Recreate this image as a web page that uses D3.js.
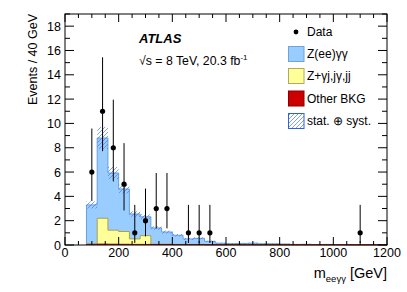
<!DOCTYPE html>
<html><head><meta charset="utf-8">
<script src="https://cdn.jsdelivr.net/npm/d3@7"></script>
<style>
body{margin:0;background:#fff;}
svg{display:block;font-family:"Liberation Sans",Arial,Helvetica,sans-serif;}
</style></head><body>
<svg id="c" width="407" height="292"></svg>
<script>
// ---- data ----
const binEdgeStart = 80, binWidth = 40, nBins = 28;
const otherBkg = [0.05,0.08,0.07,0.06,0.05,0.05,0.04,0.04,0.03,0.03,0.03,0.02,0.02,0.02,0.02,0.02,0.02,0.02,0.02,0.02,0.02,0.02,0.02,0.02,0.02,0.02,0.02,0.02];
const zJets    = [0.05,2.12,1.15,1.05,0.45,0.72,0.03,0.03,0.02,0.02,0.02,0.01,0.01,0.01,0.01,0.01,0,0,0,0,0,0,0,0,0,0,0,0];
const zeeyy    = [3.2,6.6,4.7,3.5,2.05,1.55,1.33,1.0,0.75,0.45,0.5,0.27,0.12,0.08,0.1,0.12,0.08,0.08,0.06,0.03,0.04,0.02,0.03,0.01,0,0,0,0];
const syst     = [0.3,0.9,0.5,0.35,0.22,0.2,0.14,0.12,0.1,0.08,0.08,0.05,0.04,0.03,0.03,0.04,0.03,0.03,0.03,0.02,0.02,0.02,0.02,0.02,0,0,0,0];
const dataX    = [100,140,180,220,260,300,340,380,460,500,540,1100];
const dataY    = [6,11,8,5,1,2,3,3,1,1,1,1];
const dataLo   = [3.62,7.72,5.23,2.84,0.17,0.71,1.37,1.37,0.17,0.17,0.17,0.17];
const dataHi   = [9.58,15.44,11.95,8.38,3.30,4.64,5.92,5.92,3.30,3.30,3.30,3.30];
const xTicks   = [0,200,400,600,800,1000,1200];
const yTicks   = [0,2,4,6,8,10,12,14,16,18];
const legendLabels = ["Data","Z(ee)γγ","Z+γj,jγ,jj","Other BKG","stat. ⊕ syst."];

// ---- layout ----
const svg = d3.select("#c");
const L=65, R=387, T=14, B=245;
const x = d3.scaleLinear().domain([0,1200]).range([L,R]);
const y = d3.scaleLinear().domain([0,19]).range([B,T]);

const defs = svg.append("defs");
const pat = defs.append("pattern").attr("id","hatch").attr("patternUnits","userSpaceOnUse")
  .attr("width",4).attr("height",4);
pat.append("path").attr("d","M-1,1 l2,-2 M0,4 l4,-4 M3,5 l2,-2").attr("stroke","#4a78f0").attr("stroke-width",0.7);

// bins
const bins = d3.range(nBins).map(i=>{
  const o=otherBkg[i], j=zJets[i], z=zeeyy[i];
  return {x0:binEdgeStart+i*binWidth, o:o, oj:o+j, tot:o+j+z, s:syst[i]};
});
const pts = bins.concat([{...bins[nBins-1], x0:binEdgeStart+nBins*binWidth}]);

const area = key => d3.area().curve(d3.curveStepAfter).x(d=>x(d.x0)).y0(y(0)).y1(d=>y(d[key]));
const line = key => d3.line().curve(d3.curveStepAfter).x(d=>x(d.x0)).y(d=>y(d[key]));
const withEdges = key => [{x0:binEdgeStart,[key]:0}].concat(pts).concat([{x0:binEdgeStart+nBins*binWidth,[key]:0}]);

const g = svg.append("g");
g.append("path").datum(pts).attr("d",area("tot")).attr("fill","#99ccff");
g.append("path").datum(withEdges("tot")).attr("d",line("tot")).attr("fill","none").attr("stroke","#6a9edb").attr("stroke-width",1);
g.append("path").datum(pts).attr("d",area("oj")).attr("fill","#ffff99");
g.append("path").datum(withEdges("oj")).attr("d",line("oj")).attr("fill","none").attr("stroke","#aaa050").attr("stroke-width",1);
g.append("path").datum(pts).attr("d",area("o")).attr("fill","#cc0000");
g.append("path").datum(withEdges("o")).attr("d",line("o")).attr("fill","none").attr("stroke","#990000").attr("stroke-width",0.8);

// uncertainty band
g.append("path").datum(pts.slice(0,25))
  .attr("d",d3.area().curve(d3.curveStepAfter).x(d=>x(d.x0)).y0(d=>y(Math.max(0,d.tot-d.s))).y1(d=>y(d.tot+d.s)))
  .attr("fill","url(#hatch)");

// data
const dg = svg.append("g");
dataX.forEach((dx,i)=>{
  dg.append("line").attr("x1",x(dx)).attr("x2",x(dx)).attr("y1",y(dataLo[i])).attr("y2",y(dataHi[i]))
    .attr("stroke","#000").attr("stroke-width",1);
  dg.append("circle").attr("cx",x(dx)).attr("cy",y(dataY[i])).attr("r",2.6).attr("fill","#000");
});

// axes / frame
const ax = svg.append("g").attr("stroke","#000").attr("stroke-width",1);
d3.range(0,1201,50).forEach(v=>{
  const len = v%200===0?8:4;
  ax.append("line").attr("x1",x(v)).attr("x2",x(v)).attr("y1",B).attr("y2",B-len);
  ax.append("line").attr("x1",x(v)).attr("x2",x(v)).attr("y1",T).attr("y2",T+len);
});
d3.range(0,19.01,1).forEach(v=>{
  const len = v%2===0?9:5;
  ax.append("line").attr("x1",L).attr("x2",L+len).attr("y1",y(v)).attr("y2",y(v));
  ax.append("line").attr("x1",R).attr("x2",R-len).attr("y1",y(v)).attr("y2",y(v));
});
svg.append("rect").attr("x",L).attr("y",T).attr("width",R-L).attr("height",B-T)
  .attr("fill","none").attr("stroke","#000").attr("stroke-width",1);

svg.append("g").selectAll("text").data(xTicks).join("text")
  .attr("x",d=>x(d)).attr("y",257).attr("text-anchor","middle").attr("font-size",12.5).text(d=>d);
svg.append("g").selectAll("text").data(yTicks).join("text")
  .attr("x",61).attr("y",d=>y(d)+4.5).attr("text-anchor","end").attr("font-size",12.5).text(d=>d);

// axis titles
const xt = svg.append("text").attr("x",R).attr("y",278).attr("text-anchor","end").attr("font-size",14.5);
xt.append("tspan").text("m");
xt.append("tspan").attr("font-size",9.5).attr("dy",3.5).text("eeγγ");
xt.append("tspan").attr("dy",-3.5).text(" [GeV]");
svg.append("text").attr("transform","translate(37,14) rotate(-90)").attr("text-anchor","end")
  .attr("font-size",12.5).text("Events / 40 GeV");

// labels
svg.append("text").attr("x",139).attr("y",43).attr("font-size",13).attr("font-weight","bold").attr("font-style","italic").text("ATLAS");
const st = svg.append("text").attr("x",139).attr("y",65).attr("font-size",12.3);
st.append("tspan").text("√s = 8 TeV, 20.3 fb");
st.append("tspan").attr("font-size",8).attr("dy",-5).text("-1");

// legend
const ly = [32,54,76,98.5,121];
const lg = svg.append("g");
lg.append("circle").attr("cx",296).attr("cy",ly[0]).attr("r",2.4).attr("fill","#000");
const boxes = [["#99ccff","#6fa3dc"],["#ffff99","#b0aa60"],["#cc0000","#8a0000"],["url(#hatch)","#2f5fe8"]];
boxes.forEach((b,i)=>{
  lg.append("rect").attr("x",288.5).attr("y",ly[i+1]-7.5).attr("width",15.5).attr("height",15)
    .attr("fill",b[0]).attr("stroke",b[1]).attr("stroke-width",1);
});
lg.selectAll("text").data(legendLabels).join("text")
  .attr("x",307).attr("y",(d,i)=>ly[i]+4.3).attr("font-size",12).text(d=>d);
</script>
</body></html>
